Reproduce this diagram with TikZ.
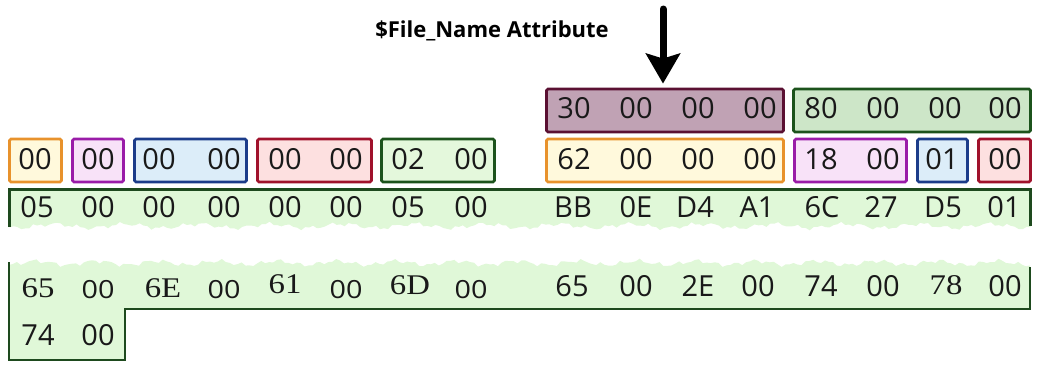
\documentclass[tikz,border=0pt]{standalone}
\usepackage{fontspec}
\usepackage{graphicx}
\setmainfont{Open Sans}
\newfontfamily\serifbyte{Liberation Serif}
\usetikzlibrary{arrows.meta}
\definecolor{mauveF}{HTML}{C0A2B4}
\definecolor{mauveD}{HTML}{5A1032}
\definecolor{greenF}{HTML}{CDE6C8}
\definecolor{greenD}{HTML}{1C531C}
\definecolor{orangeF}{HTML}{FFF9DC}
\definecolor{orangeD}{HTML}{E8922C}
\definecolor{purpleF}{HTML}{F8E2F8}
\definecolor{purpleD}{HTML}{9A1CA8}
\definecolor{blueF}{HTML}{DCEDF9}
\definecolor{blueD}{HTML}{1C3C8A}
\definecolor{redF}{HTML}{FDE0E0}
\definecolor{redD}{HTML}{A0122C}
\definecolor{lgreenF}{HTML}{E4F8DC}
\definecolor{lgreenD}{HTML}{1C531C}
\definecolor{bandF}{HTML}{E0F8D8}
\definecolor{bandD}{HTML}{1E4A1E}
\newcommand{\widebyte}[1]{\scalebox{1.15}[1]{#1}}
\begin{document}
\begin{tikzpicture}[x=1pt,y=-1pt,
  cell/.style={draw=#1D, fill=#1F, line width=2.8pt, rounded corners=1.5pt,
               minimum height=43pt, inner sep=0pt},
  byte/.style={font=\fontsize{29}{30}\selectfont, inner sep=0pt, anchor=center, text=black!90},
  sbyte/.style={font=\fontsize{25}{26}\selectfont, inner sep=0pt, anchor=center, text=black!90},
  rbyte/.style={font=\serifbyte\fontsize{28.5}{30}\selectfont, inner sep=0pt, anchor=center, text=black!90},
  edge/.style={draw=bandD, line width=2.8pt},
  pointer/.style={line width=7pt, line cap=round, -{Stealth[length=30pt,width=34pt,inset=5pt]}}]
\useasboundingbox (0,0) rectangle (1037,365);

% ---- title and pointer
\node[font=\bfseries\fontsize{22}{26}\selectfont, inner sep=0pt] (title) at (492,31) {\$File\_Name Attribute};

% ---- row A
\node[cell=mauve, minimum width=237pt] (A1) at (665,110.5) {};
\node[cell=green, minimum width=237pt] (A2) at (912,110.5) {};
\coordinate (arrtop) at (663,9);
\draw[pointer, shorten >=4pt] (arrtop) -- (arrtop |- A1.north);

% ---- row B
\node[cell=orange, minimum width=52pt]  (oL) at (35.5,160.5) {};
\node[cell=purple, minimum width=51pt]  (pL) at (98,160.5) {};
\node[cell=blue,   minimum width=112pt] (bL) at (190.5,160.5) {};
\node[cell=red,    minimum width=114pt] (rL) at (314.5,160.5) {};
\node[cell=lgreen, minimum width=113pt] (gL) at (438,160.5) {};
\node[cell=orange, minimum width=237pt] (oR) at (665,160.5) {};
\node[cell=purple, minimum width=112pt] (pR) at (850.5,160.5) {};
\node[cell=blue,   minimum width=50pt]  (bR) at (942.5,160.5) {};
\node[cell=red,    minimum width=52pt]  (rR) at (1004.5,160.5) {};

% ---- band C (torn bottom)
\fill[bandF] (9.5,189.5) -- (1030.5,189.5) -- (1030.5,226)
  -- plot[domain=1030.5:9.5, samples=260] (\x, {226+2*sin(5*mod(\x,360))+1.5*sin(17*mod(\x,360)+30)+1*sin(41*mod(\x,360))}) -- cycle;
\coordinate (c1) at (9.5,227);
\coordinate (c2) at (9.5,189.5);
\coordinate (c3) at (1030.5,189.5);
\coordinate (c4) at (1030.5,226);
\draw[edge] (c1) -- (c2) -- (c3) -- (c4);

% ---- band D (torn top, stepped bottom)
\fill[bandF] (9,263)
  -- plot[domain=9:1030, samples=260] (\x, {263+2*sin(6*mod(\x,360)+50)+1.5*sin(19*mod(\x,360))+1*sin(37*mod(\x,360)+10)})
  -- (1030,309) -- (125,309) -- (125,360) -- (9,360) -- cycle;
\coordinate (d1) at (9,262);
\coordinate (d2) at (9,360);
\coordinate (d3) at (125,360);
\coordinate (d4) at (125,309);
\coordinate (d5) at (1030,309);
\coordinate (d6) at (1030,267);
\draw[edge] (d1) -- (d2) -- (d3) -- (d4) -- (d5) -- (d6);

% ---- row A text
\foreach \t/\x [count=\i] in {30/574,00/636,00/698,00/760,80/821,00/883,00/945,00/1005}
  \node[byte] (ta\i) at (\x,108) {\t};

% ---- row B text
\foreach \t/\x [count=\i] in {00/35,00/98,00/159,00/224,00/285,00/346,02/408,00/471,
                               62/574,00/636,00/698,00/760,18/821,00/883,01/942,00/1005}
  \node[byte] (tb\i) at (\x,159) {\t};

% ---- row C text
\foreach \t/\x [count=\i] in {05/37,00/98,00/159,00/224,00/285,00/346,05/408,00/471,
                               BB/573,0E/636,D4/695,A1/757,6C/822,27/881,D5/943,01/1004}
  \node[byte] (tc\i) at (\x,207) {\t};

% ---- row D text
\node[rbyte] (td1) at (38,288) {\widebyte{65}};
\node[sbyte] (td2) at (98,290) {\widebyte{00}};
\node[rbyte] (td3) at (163,288) {\widebyte{6E}};
\node[sbyte] (td4) at (224,290) {\widebyte{00}};
\node[rbyte] (td5) at (285,284) {\widebyte{61}};
\node[sbyte] (td6) at (346,290) {\widebyte{00}};
\node[rbyte] (td7) at (410,285) {\widebyte{6D}};
\node[sbyte] (td8) at (471,290) {\widebyte{00}};
\foreach \t/\x [count=\i] in {65/572,00/636,2E/698,00/758,74/821,00/883}
  \node[byte] (tdr\i) at (\x,286) {\t};
\node[rbyte] (tdr7) at (946,285) {\widebyte{78}};
\node[byte] (tdr8) at (1005,286) {00};

% ---- row E text
\node[byte] (te1) at (38,335) {74};
\node[byte] (te2) at (98,335) {00};
\end{tikzpicture}
\end{document}
